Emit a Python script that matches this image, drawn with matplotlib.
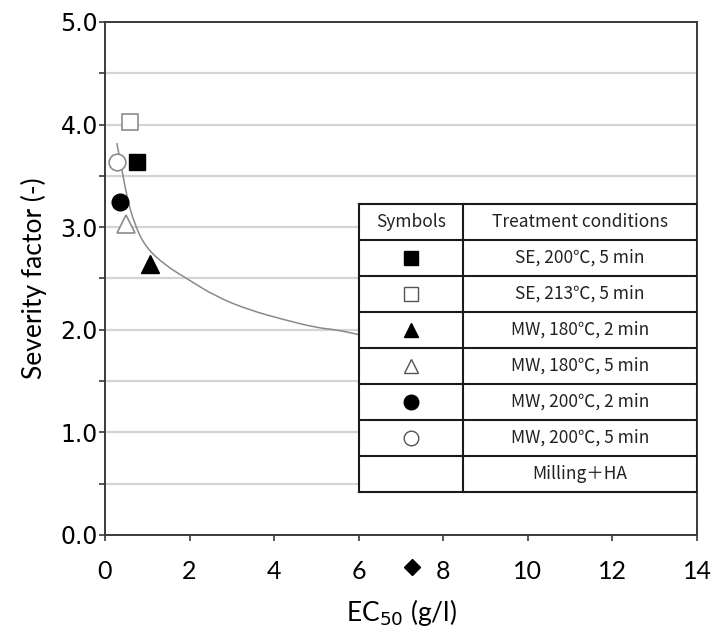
import matplotlib
matplotlib.use("Agg")
import matplotlib.pyplot as plt
from matplotlib.patches import Rectangle, PathPatch
from matplotlib.path import Path

# measured values
conditions = ["SE, 200℃, 5 min", "SE, 213℃, 5 min", "MW, 180℃, 2 min",
              "MW, 180℃, 5 min", "MW, 200℃, 2 min", "MW, 200℃, 5 min"]
ec50 = [0.75, 0.59, 1.06, 0.49, 0.35, 0.29]
severity = [3.64, 4.03, 2.64, 3.03, 3.25, 3.64]
shapes = ['s', 's', '^', '^', 'o', 'o']
filled = [True, False, True, False, True, False]

milling_label = "Milling＋HA"
milling_x = [7.25]
milling_y = [-0.31]

# trend curve
curve_x = [0.28, 0.39, 0.52, 0.69, 0.95, 1.42, 1.93, 2.64, 3.43, 4.22, 5.0, 5.48, 6.03, 6.5]
curve_y = [3.82, 3.59, 3.29, 3.04, 2.81, 2.63, 2.50, 2.32, 2.19, 2.10, 2.02, 2.00, 1.95, 1.91]

x_ticks = [0, 2, 4, 6, 8, 10, 12, 14]
y_ticks = [0.0, 1.0, 2.0, 3.0, 4.0, 5.0]

SANS = ['Lato', 'Noto Sans CJK JP', 'DejaVu Sans']
TABLE_FONT = ['Noto Sans CJK JP', 'DejaVu Sans']
SPINE = '#3a3a3a'


def smooth_path(xs, ys):
    # quadratic bezier through midpoints, the read points act as control points
    verts = [(xs[0], ys[0])]
    codes = [Path.MOVETO]
    for i in range(1, len(xs) - 1):
        mx = (xs[i] + xs[i + 1]) / 2
        my = (ys[i] + ys[i + 1]) / 2
        verts += [(xs[i], ys[i]), (mx, my)]
        codes += [Path.CURVE3, Path.CURVE3]
    verts.append((xs[-1], ys[-1]))
    codes.append(Path.LINETO)
    return Path(verts, codes)


fig = plt.figure(figsize=(7.17, 6.34), dpi=100)
ax = fig.add_axes([0.1464, 0.1562, 0.8257, 0.8091])

ax.set_xlim(0, 14)
ax.set_ylim(0, 5)

for g in [0.5, 1.0, 1.5, 2.0, 2.5, 3.0, 3.5, 4.0, 4.5]:
    ax.axhline(g, color='#d4d4d4', lw=1.6, zorder=0)

ax.add_patch(PathPatch(smooth_path(curve_x, curve_y), facecolor='none',
                       edgecolor='#8a8a8a', lw=1.1, zorder=2))

for xv, yv, m, f in zip(ec50, severity, shapes, filled):
    ms = 12 if m != '^' else 13
    if f:
        ax.plot(xv, yv, marker=m, ms=ms, color='black', mec='black', ls='none', zorder=3)
    else:
        ax.plot(xv, yv, marker=m, ms=ms, mfc='white', mec='#8c8c8c', mew=1.2, ls='none', zorder=3)

ax.plot(milling_x, milling_y, marker='D', ms=8, color='black', ls='none', clip_on=False, zorder=3)

# legend table
tx0, tx1, tdiv = 6.0, 14.0, 8.46
ty0, ty1 = 0.42, 3.23
nrows = len(conditions) + 2
rh = (ty1 - ty0) / nrows
ax.add_patch(Rectangle((tx0, ty0), tx1 - tx0, ty1 - ty0, facecolor='white',
                       edgecolor='none', zorder=4))
for i in range(nrows + 1):
    ax.plot([tx0, tx1], [ty1 - i * rh] * 2, color='#1a1a1a', lw=1.5, zorder=5,
            solid_capstyle='projecting')
for xv in [tx0, tdiv, tx1]:
    ax.plot([xv, xv], [ty0, ty1], color='#1a1a1a', lw=1.5, zorder=5,
            solid_capstyle='projecting')

sym_x = (tx0 + tdiv) / 2
txt_x = (tdiv + tx1) / 2
ax.text(sym_x, ty1 - 0.5 * rh, "Symbols", ha='center', va='center',
        fontsize=12.5, family=TABLE_FONT, color='#222222', zorder=6)
ax.text(txt_x, ty1 - 0.5 * rh, "Treatment conditions", ha='center', va='center',
        fontsize=12.5, family=TABLE_FONT, color='#222222', zorder=6)
for i, (lab, m, f) in enumerate(zip(conditions, shapes, filled)):
    yc = ty1 - (i + 1.5) * rh
    if f:
        ax.plot(sym_x, yc, marker=m, ms=10.5, color='black', ls='none', zorder=6)
    else:
        ax.plot(sym_x, yc, marker=m, ms=10.5, mfc='white', mec='#555555', mew=1.0,
                ls='none', zorder=6)
    ax.text(txt_x, yc, lab, ha='center', va='center', fontsize=12.5, family=TABLE_FONT,
            color='#222222', zorder=6)
ax.text(txt_x, ty1 - (nrows - 0.5) * rh, milling_label, ha='center', va='center',
        fontsize=12.5, family=TABLE_FONT, color='#222222', zorder=6)

for s in ax.spines.values():
    s.set_color(SPINE)
    s.set_linewidth(1.4)

ax.set_xticks(x_ticks)
ax.set_xticklabels([str(v) for v in x_ticks], family=SANS, fontsize=18)
ax.set_yticks(y_ticks)
ax.set_yticklabels([f"{v:.1f}" for v in y_ticks], family='DejaVu Sans', fontsize=17)
ax.set_yticks([0.5, 1.5, 2.5, 3.5, 4.5], minor=True)
ax.tick_params(axis='x', direction='out', length=4, width=1.2, color=SPINE, pad=14)
ax.tick_params(axis='y', which='both', direction='out', length=4, width=1.2,
               color=SPINE, pad=1)

ax.set_xlabel("EC$_{50}$ (g/l)", family=SANS, fontsize=19, labelpad=10)
ax.set_ylabel("Severity factor (-)", family=SANS, fontsize=19, labelpad=10)

fig.savefig("out.png", dpi=100)
